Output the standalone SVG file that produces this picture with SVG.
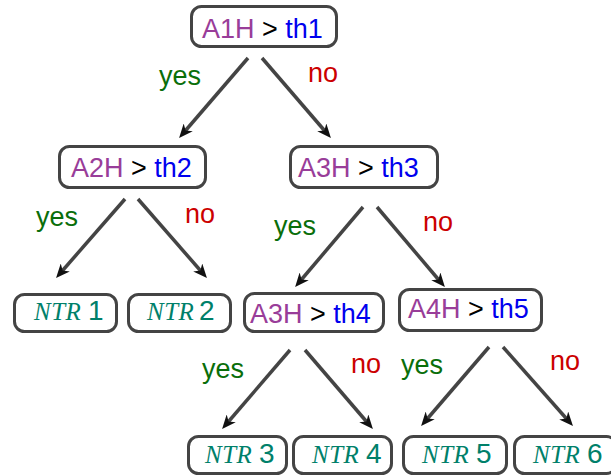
<svg xmlns="http://www.w3.org/2000/svg" width="611" height="476" viewBox="0 0 611 476">
<style>
.box{fill:#fff;stroke:#444;stroke-width:3;}
.lbl{font-family:"Liberation Sans",Arial,sans-serif;font-size:27px;}
.p{fill:#993d99;}
.b{fill:#0000ee;}
.k{fill:#000;}
.ntr{font-family:"Liberation Serif","DejaVu Serif",serif;font-style:italic;font-size:25px;fill:#00806a;letter-spacing:0.5px;}
.num{font-family:"Liberation Sans",Arial,sans-serif;font-size:28px;fill:#00806a;}
.yes{font-family:"Liberation Sans",Arial,sans-serif;font-size:27px;fill:#0a6e0a;}
.no{font-family:"Liberation Sans",Arial,sans-serif;font-size:27px;fill:#cc0000;}
.arr{stroke:#444;stroke-width:3.5;fill:none;marker-end:url(#ah);}
</style>
<defs>
<marker id="ah" viewBox="0 0 14 12" markerWidth="14" markerHeight="12" refX="8" refY="6" orient="auto" markerUnits="userSpaceOnUse">
<path d="M0,0 L14,6 L0,12 L4,6 z" fill="#111"/>
</marker>
</defs>
<g id="connectors">
<line class="arr" x1="248" y1="58" x2="183" y2="133.5"/>
<line class="arr" x1="262" y1="58" x2="327" y2="133.5"/>
<line class="arr" x1="125" y1="199" x2="60" y2="273.5"/>
<line class="arr" x1="138" y1="199" x2="203" y2="273.5"/>
<line class="arr" x1="363" y1="207" x2="299" y2="282.5"/>
<line class="arr" x1="377" y1="207" x2="441" y2="282.5"/>
<line class="arr" x1="290" y1="350" x2="226" y2="424.5"/>
<line class="arr" x1="305" y1="350" x2="369" y2="424.5"/>
<line class="arr" x1="489" y1="347" x2="425" y2="421.5"/>
<line class="arr" x1="503" y1="347" x2="569" y2="421.5"/>
<text class="yes" x="159" y="85">yes</text>
<text class="no" x="308" y="82">no</text>
<text class="yes" x="36" y="226">yes</text>
<text class="no" x="185" y="223">no</text>
<text class="yes" x="274" y="235">yes</text>
<text class="no" x="423" y="231">no</text>
<text class="yes" x="202" y="378">yes</text>
<text class="no" x="351" y="373">no</text>
<text class="yes" x="401" y="374">yes</text>
<text class="no" x="550" y="370">no</text>
</g>
<g id="n1">
<rect class="box" x="191.5" y="6.5" width="145" height="40" rx="10"/>
<text class="lbl" x="202" y="38"><tspan class="p">A1H</tspan><tspan class="k"> &gt; </tspan><tspan class="b">th1</tspan></text>
</g>
<g id="n2">
<rect class="box" x="59.5" y="146.5" width="146" height="41" rx="10"/>
<text class="lbl" x="71" y="177"><tspan class="p">A2H</tspan><tspan class="k"> &gt; </tspan><tspan class="b">th2</tspan></text>
</g>
<g id="n3">
<rect class="box" x="290.5" y="146.5" width="147" height="41" rx="10"/>
<text class="lbl" x="298" y="177"><tspan class="p">A3H</tspan><tspan class="k"> &gt; </tspan><tspan class="b">th3</tspan></text>
</g>
<g id="leaf1">
<rect class="box" x="14.5" y="294.5" width="102" height="37" rx="10"/>
<text class="ntr" x="34" y="320">NTR</text><text class="num" x="88" y="320">1</text>
</g>
<g id="leaf2">
<rect class="box" x="128.5" y="294.5" width="102" height="37" rx="10"/>
<text class="ntr" x="147" y="320">NTR</text><text class="num" x="199" y="320">2</text>
</g>
<g id="n4">
<rect class="box" x="244.5" y="293.5" width="139" height="38" rx="10"/>
<text class="lbl" x="250" y="323"><tspan class="p">A3H</tspan><tspan class="k"> &gt; </tspan><tspan class="b">th4</tspan></text>
</g>
<g id="n5">
<rect class="box" x="399.5" y="289.5" width="142" height="41" rx="10"/>
<text class="lbl" x="408" y="318"><tspan class="p">A4H</tspan><tspan class="k"> &gt; </tspan><tspan class="b">th5</tspan></text>
</g>
<g id="leaf3">
<rect class="box" x="188.5" y="436.5" width="98" height="37" rx="10"/>
<text class="ntr" x="205" y="463">NTR</text><text class="num" x="259" y="463">3</text>
</g>
<g id="leaf4">
<rect class="box" x="293.5" y="436.5" width="98" height="37" rx="10"/>
<text class="ntr" x="312" y="463">NTR</text><text class="num" x="366" y="463">4</text>
</g>
<g id="leaf5">
<rect class="box" x="403.5" y="436.5" width="103" height="37" rx="10"/>
<text class="ntr" x="422" y="463">NTR</text><text class="num" x="476" y="463">5</text>
</g>
<g id="leaf6">
<rect class="box" x="514.5" y="436.5" width="102" height="37" rx="10"/>
<text class="ntr" x="533" y="463">NTR</text><text class="num" x="587" y="463">6</text>
</g>
</svg>
